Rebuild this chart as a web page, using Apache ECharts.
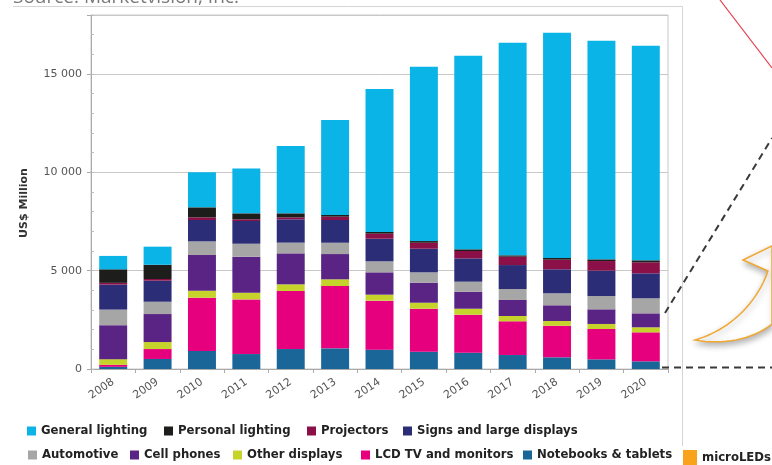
<!DOCTYPE html>
<html>
<head>
<meta charset="utf-8">
<title>LED market by application</title>
<script src="https://cdn.jsdelivr.net/npm/echarts@6/dist/echarts.min.js"></script>
<style>
  html, body { margin: 0; padding: 0; background: #fff; }
  #chart { width: 772px; height: 465px; }
</style>
</head>
<body>
<div id="chart"></div>
<script>
// Years on the category axis
const years = ['2008', '2009', '2010', '2011', '2012', '2013', '2014', '2015', '2016', '2017', '2018', '2019', '2020'];

// Revenue per application, US$ million (stacked bottom to top in this order)
const notebooksTablets = [110, 510, 915, 760, 1015, 1050, 985, 880, 830, 710, 595, 490, 390];
const lcdTvMonitors    = [100, 505, 2710, 2780, 2950, 3170, 2490, 2185, 1930, 1715, 1605, 1545, 1475];
const otherDisplays    = [290, 355, 355, 340, 340, 340, 305, 305, 305, 270, 240, 255, 255];
const cellPhones       = [1730, 1425, 1815, 1830, 1575, 1285, 1135, 1020, 865, 815, 800, 745, 710];
const automotive       = [790, 625, 695, 660, 545, 575, 560, 525, 510, 555, 610, 675, 765];
const signsDisplays    = [1270, 1070, 1085, 1155, 1185, 1155, 1150, 1200, 1185, 1220, 1220, 1290, 1270];
const projectors       = [90, 85, 135, 85, 100, 170, 255, 305, 375, 425, 490, 490, 560];
const personalLighting = [690, 725, 510, 305, 205, 85, 85, 85, 85, 70, 85, 85, 100];
const generalLighting  = [680, 920, 1780, 2285, 3425, 4830, 7270, 8865, 9845, 10810, 11455, 11115, 10915];
const microLeds        = [];

// Value axis ticks
const yMax = 18000;
const yMajorStep = 5000;
const yMinorStep = 1000;

const seriesDefs = [
  { name: 'Notebooks & tablets',      data: notebooksTablets, color: '#1a6699' },
  { name: 'LCD TV and monitors',      data: lcdTvMonitors,    color: '#e6007e' },
  { name: 'Other displays',           data: otherDisplays,    color: '#c6d32a' },
  { name: 'Cell phones',              data: cellPhones,       color: '#5a2484' },
  { name: 'Automotive',               data: automotive,       color: '#a6a6a6' },
  { name: 'Signs and large displays', data: signsDisplays,    color: '#2b2d77' },
  { name: 'Projectors',               data: projectors,       color: '#8b1048' },
  { name: 'Personal lighting',        data: personalLighting, color: '#1d1d1b' },
  { name: 'General lighting',         data: generalLighting,  color: '#0bb4e6' },
  { name: 'microLEDs',                data: microLeds,        color: '#f9a21b' }
];

// Legend entries placed one by one in two rows, plus the separate microLEDs key
const legendText = { color: '#222', fontFamily: 'DejaVu Sans', fontWeight: 'bold', fontSize: 11.7, lineHeight: 14 };
const legendPlacement = [
  { name: 'General lighting',         left: 27,  top: 424 },
  { name: 'Personal lighting',        left: 164, top: 424 },
  { name: 'Projectors',               left: 307, top: 424 },
  { name: 'Signs and large displays', left: 403, top: 424 },
  { name: 'Automotive',               left: 28,  top: 448 },
  { name: 'Cell phones',              left: 130, top: 448 },
  { name: 'Other displays',           left: 233, top: 448 },
  { name: 'LCD TV and monitors',      left: 361, top: 448 },
  { name: 'Notebooks & tablets',      left: 523, top: 448 }
];
const legends = legendPlacement.map(p => ({
  data: [p.name], left: p.left, top: p.top, padding: 0,
  icon: 'rect', itemWidth: 9, itemHeight: 9, itemGap: 0,
  selectedMode: false, textStyle: legendText
}));
legends.push({
  data: ['microLEDs'], left: 683, top: 447, padding: 0,
  icon: 'rect', itemWidth: 14, itemHeight: 15,
  selectedMode: false, textStyle: Object.assign({}, legendText, { lineHeight: 18, padding: [3, 0, 0, 0] })
});

const fmtThousands = v => String(v).replace(/\B(?=(\d{3})+(?!\d))/g, ' ');

// Outline of the curved callout arrow at the right edge, sampled from cubic curves
function cubic(p0, p1, p2, p3, n) {
  const pts = [];
  for (let i = 1; i <= n; i++) {
    const t = i / n, u = 1 - t;
    pts.push([
      u * u * u * p0[0] + 3 * u * u * t * p1[0] + 3 * u * t * t * p2[0] + t * t * t * p3[0],
      u * u * u * p0[1] + 3 * u * u * t * p1[1] + 3 * u * t * t * p2[1] + t * t * t * p3[1]
    ]);
  }
  return pts;
}
const calloutPts = [[772, 246], [743, 260], [768, 271]]
  .concat(cubic([768, 271], [757, 303], [730, 330], [695, 340], 24))
  .concat(cubic([695, 340], [722, 345], [752, 340], [772, 324], 16));

const chart = echarts.init(document.getElementById('chart'), null, { renderer: 'canvas' });

chart.setOption({
  animation: false,
  backgroundColor: '#fff',
  grid: {
    left: 91, right: 104, top: 15, bottom: 96,
    show: true, borderColor: '#c8c8c8', borderWidth: 1
  },
  legend: legends,
  xAxis: {
    type: 'category',
    data: years,
    axisLine: { lineStyle: { color: '#aaa', width: 1 } },
    axisTick: { show: true, length: 4, lineStyle: { color: '#aaa' } },
    axisLabel: {
      rotate: 34, margin: 12, color: '#555',
      fontFamily: 'DejaVu Sans', fontSize: 11, interval: 0
    },
    splitLine: { show: false }
  },
  yAxis: [
    {
      type: 'value', min: 0, max: yMax, interval: yMajorStep, position: 'left',
      axisLine: { show: true, lineStyle: { color: '#aaa' } },
      axisTick: { show: true, length: 4, lineStyle: { color: '#aaa' } },
      axisLabel: {
        color: '#555', fontFamily: 'DejaVu Sans', fontSize: 11, margin: 9,
        formatter: v => (v % yMajorStep === 0 ? fmtThousands(v) : '')
      },
      splitLine: { show: true, lineStyle: { color: '#c8c8c8', width: 1 } }
    },
    {
      type: 'value', min: 0, max: yMax, interval: yMinorStep, position: 'left',
      axisLine: { show: false },
      axisTick: { show: true, inside: true, length: 3, lineStyle: { color: '#bbb' } },
      axisLabel: { show: false },
      splitLine: { show: false }
    }
  ],
  series: seriesDefs.map(s => ({
    name: s.name,
    type: 'bar',
    stack: 'total',
    yAxisIndex: 0,
    barWidth: '63%',
    data: s.data,
    itemStyle: { color: s.color },
    emphasis: { disabled: true }
  })),
  graphic: [
    {
      type: 'text', x: 13, y: 7, silent: true,
      style: {
        text: 'Source: Marketvision, Inc.', font: '19px "Open Sans"', fill: '#7a7a7a',
        verticalAlign: 'bottom'
      }
    },
    {
      // value axis title
      type: 'text', x: 24, y: 203, rotation: Math.PI / 2, silent: true,
      style: {
        text: 'US$ Million', font: 'bold 11px "DejaVu Sans"', fill: '#333',
        align: 'center', verticalAlign: 'middle'
      }
    },
    {
      type: 'polyline', silent: true,
      shape: { points: [[13, 6.5], [682.5, 6.5], [682.5, 446]] },
      style: { stroke: '#d4d4d4', lineWidth: 1, fill: null }
    },
    {
      type: 'line', silent: true,
      shape: { x1: 720, y1: 0, x2: 772, y2: 68 },
      style: { stroke: '#e5414f', lineWidth: 1.2 }
    },
    {
      type: 'line', silent: true,
      shape: { x1: 665, y1: 313, x2: 772, y2: 138 },
      style: { stroke: '#3a3a3a', lineWidth: 2, lineDash: [7, 5] }
    },
    {
      type: 'line', silent: true,
      shape: { x1: 662, y1: 367.5, x2: 772, y2: 367.5 },
      style: { stroke: '#3a3a3a', lineWidth: 2, lineDash: [7, 5] }
    },
    {
      type: 'polygon', silent: true,
      shape: { points: calloutPts },
      style: {
        fill: '#fff', stroke: '#f0a830', lineWidth: 1.5,
        shadowBlur: 6, shadowColor: 'rgba(0,0,0,0.3)', shadowOffsetY: 3, shadowOffsetX: 1
      }
    }
  ]
});
</script>
</body>
</html>
